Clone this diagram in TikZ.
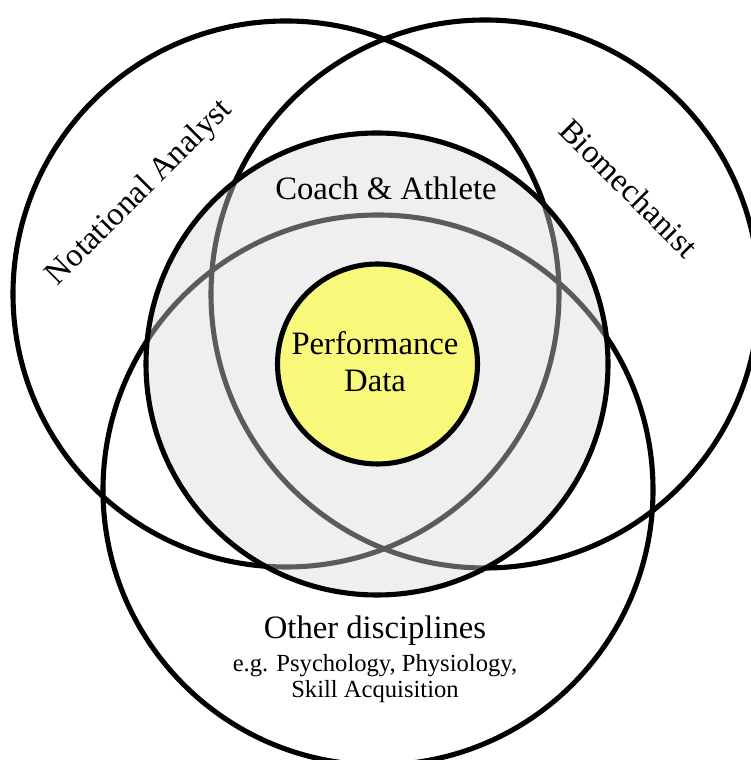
\documentclass[tikz,border=0pt]{standalone}
\usepackage{fontspec}
\setmainfont{Liberation Serif}
\definecolor{perfyellow}{RGB}{248,248,122}
\begin{document}
\begin{tikzpicture}[x=0.02cm,y=0.02cm,
  ring/.style={line width=2.9pt},
  bigtext/.style={font=\fontsize{18.6}{21}\selectfont}]
\useasboundingbox (0,0) rectangle (750,760);

\draw [ring] (286,466) circle[radius=273];
\draw [ring] (485,466) circle[radius=274];
\draw [ring] (378,270) circle[radius=275];

\fill [black!15, fill opacity=.42] (377,396) circle[radius=231];
\draw [ring] (377,396) circle[radius=231];
\filldraw [ring, fill=perfyellow] (377.5,396) circle[radius=100];

\node [bigtext, rotate=45] (notational) at (140,567) {Notational Analyst};
\node [bigtext, rotate=-45] (biomech) at (629,572) {Biomechanist};
\node [bigtext] (coach) at (386,572) {Coach \& Athlete};
\node [bigtext, align=center] (perf) at (375,398) {Performance\\Data};
\node [align=center, font=\fontsize{14}{14.7}\selectfont] (other) at (375,101)
  {{\fontsize{18.6}{21}\selectfont Other disciplines}\\[4pt]
   e.g. Psychology, Physiology,\\
   Skill Acquisition};
\end{tikzpicture}
\end{document}
